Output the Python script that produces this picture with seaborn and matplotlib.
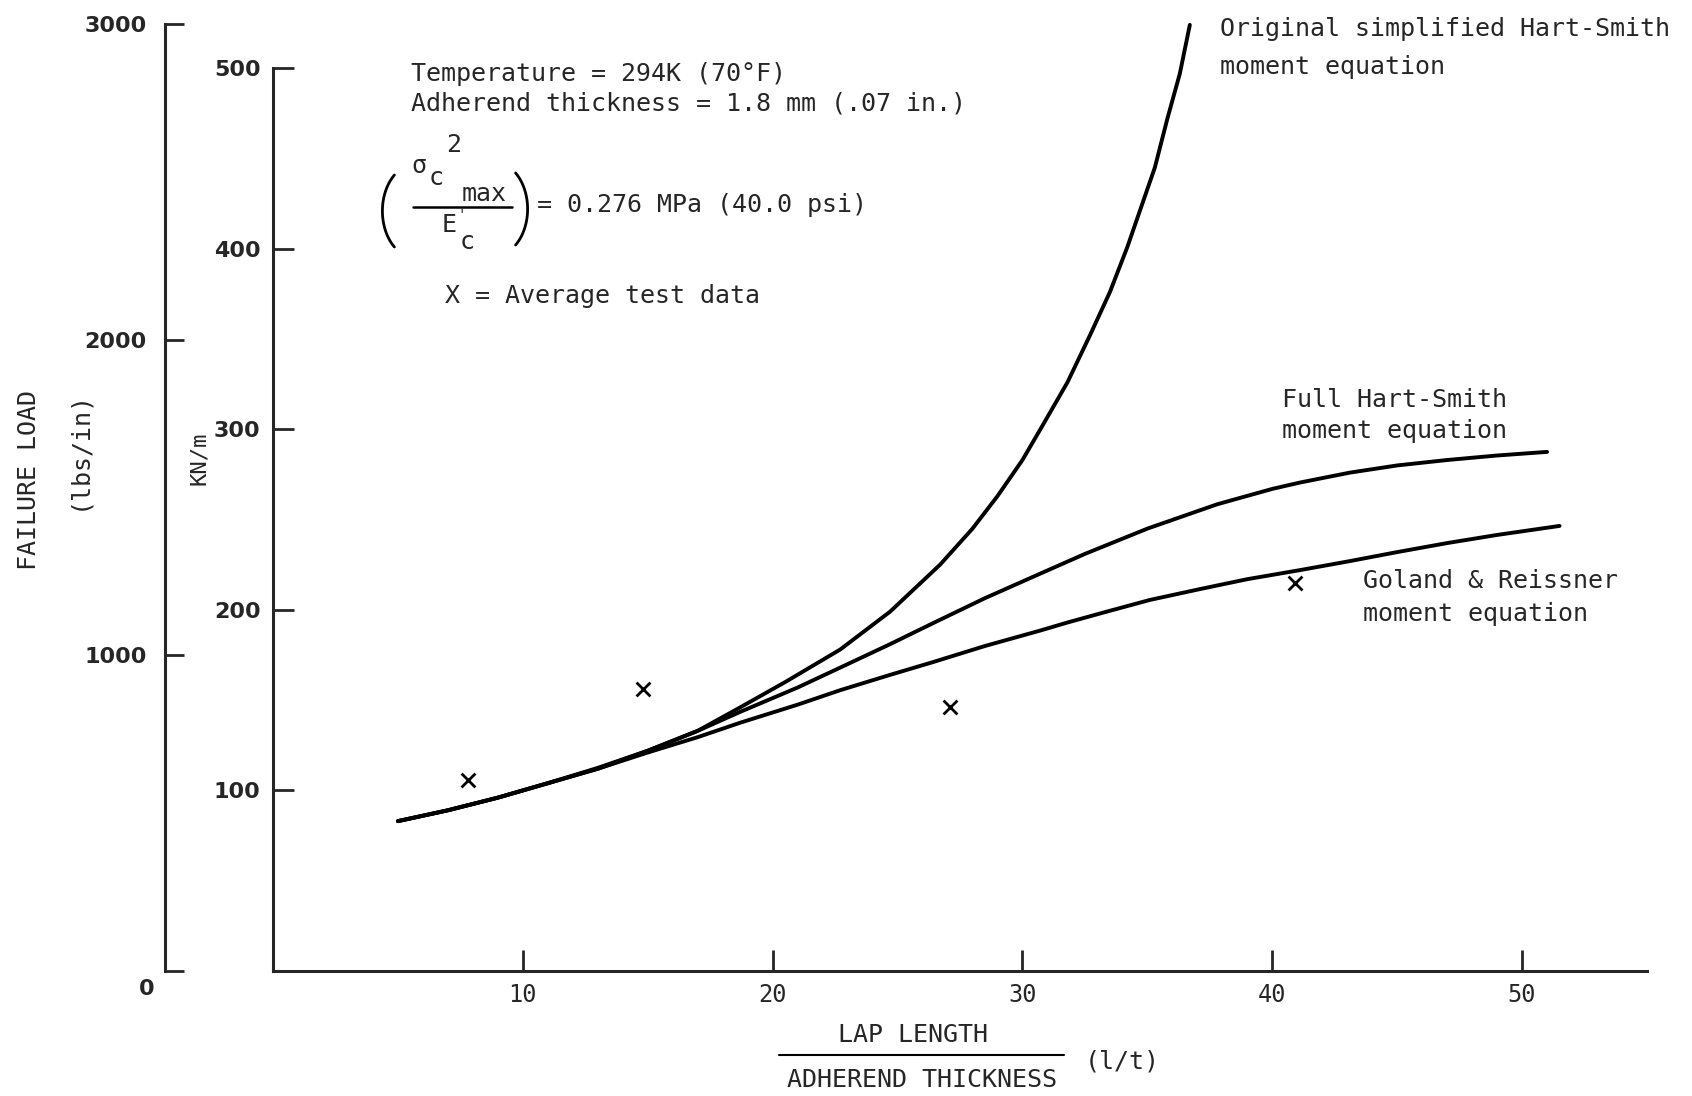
import matplotlib
matplotlib.use('Agg')
import matplotlib.pyplot as plt
from matplotlib.lines import Line2D
from matplotlib.transforms import ScaledTranslation
import numpy as np
import pandas as pd
import seaborn as sns

# values: lap length / adherend thickness vs failure load (kN/m)
orig_x = [5.0, 7, 9, 11, 13, 15, 17, 18.7, 20.5, 22.7, 24.7, 26.7, 28, 29, 30,
          30.8, 31.8, 32.7, 33.5, 34.2, 34.7, 35.3, 35.8, 36.3, 36.7]
orig_y = [83, 89, 96, 104, 112, 122, 133, 146, 160, 178, 199, 225, 245, 263, 283,
          302, 326, 352, 376, 401, 421, 445, 472, 497, 524]

full_x = [5.0, 7, 9, 11, 13, 15, 17, 18.7, 21, 22.7, 24.7, 26.4, 28.5, 30.7, 32.5, 35,
          37.8, 40, 41.1, 43.1, 45, 47, 49, 51]
full_y = [83, 89, 96, 104, 112.5, 122, 133, 143.5, 157, 168, 181, 192.5, 206.5, 220, 231, 245,
          258.5, 267, 270.5, 276, 280, 283, 285.5, 287.5]

gr_x = [5.0, 7, 9, 11, 13, 15, 17, 18.7, 21, 22.7, 24.7, 26.4, 28.5, 30.7, 31.8, 33.5, 35.1,
        37.1, 39, 41.1, 43.1, 45, 47, 49, 51.5]
gr_y = [83, 89, 96, 104, 112, 121, 129.5, 137.5, 147.5, 155.5, 164, 171, 180, 188.5, 193,
        199.5, 205.5, 211.5, 217, 222, 227, 232, 237, 241.5, 246.5]

test_x = [7.8, 14.8, 27.1, 40.9]
test_y = [105.8, 156.1, 146.2, 214.8]

kn_ticks = [100, 200, 300, 400, 500]
lb_ticks = [0, 1000, 2000, 3000]
lt_ticks = [10, 20, 30, 40, 50]

curves = pd.concat([
    pd.DataFrame({'lt': orig_x, 'load': orig_y, 'curve': 'orig'}),
    pd.DataFrame({'lt': full_x, 'load': full_y, 'curve': 'full'}),
    pd.DataFrame({'lt': gr_x, 'load': gr_y, 'curve': 'goland'}),
])
tests = pd.DataFrame({'lt': test_x, 'load': test_y})

sns.set_style('ticks')
plt.rcParams['font.family'] = ['DejaVu Sans Mono', 'DejaVu Sans']

W, H = 1692, 1096
fig = plt.figure(figsize=(W / 100, H / 100), dpi=100)


def fx(px):
    return px / W


def fy(py):
    return 1 - py / H


ax = fig.add_axes([fx(273), fy(971), 1374 / W, 966 / H])
ax2 = fig.add_axes([fx(165), fy(971), 0.01, 947 / H])

for name in ['orig', 'full', 'goland']:
    sns.lineplot(data=curves[curves['curve'] == name], x='lt', y='load', sort=False,
                 estimator=None, color='black', lw=2.8, ax=ax)
sns.scatterplot(data=tests, x='lt', y='load', marker='x', s=100, color='black',
                linewidth=2, ax=ax)

ax.set_xlim(0, 55)
ax.set_ylim(0, 535)
ax.set_xticks(lt_ticks)
ax.set_yticks(kn_ticks)
ax.set_xlabel('')
ax.set_ylabel('')
for s in ['top', 'right']:
    ax.spines[s].set_visible(False)
ax.spines['left'].set_bounds(0, 500)
for s in ['left', 'bottom']:
    ax.spines[s].set_linewidth(2.2)
ax.tick_params(direction='in', length=15, width=2)
ax.tick_params(axis='y', pad=9)
ax.tick_params(axis='x', pad=9)
for lbl in ax.get_yticklabels():
    lbl.set_fontfamily('DejaVu Sans')
    lbl.set_fontweight('bold')
    lbl.set_fontsize(16)
for lbl in ax.get_xticklabels():
    lbl.set_fontsize(17)

# second scale in lbs/in
ax2.set_ylim(0, 3000)
ax2.set_yticks(lb_ticks)
ax2.set_xticks([])
ax2.patch.set_visible(False)
for s in ['top', 'right', 'bottom']:
    ax2.spines[s].set_visible(False)
ax2.spines['left'].set_linewidth(2.2)
ax2.tick_params(direction='in', length=14, width=2, pad=13)
for lbl in ax2.get_yticklabels():
    lbl.set_fontfamily('DejaVu Sans')
    lbl.set_fontweight('bold')
    lbl.set_fontsize(16)
zero_lbl = ax2.get_yticklabels()[0]
zero_lbl.set_transform(zero_lbl.get_transform() + ScaledTranslation(0.08, -0.16, fig.dpi_scale_trans))

# axis titles
fig.text(fx(29), fy(480), 'FAILURE LOAD', rotation=90, ha='center', va='center', fontsize=18)
fig.text(fx(78), fy(450), '(lbs/in)', rotation=90, ha='center', va='center', fontsize=18)
fig.text(fx(199), fy(458), 'KN/m', rotation=90, ha='center', va='center', fontsize=16)

fig.text(fx(913), fy(1035), 'LAP LENGTH', ha='center', va='center', fontsize=18)
fig.add_artist(Line2D([fx(779), fx(1064)], [fy(1055), fy(1055)], color='black', lw=1.5,
                      transform=fig.transFigure))
fig.text(fx(922), fy(1080), 'ADHEREND THICKNESS', ha='center', va='center', fontsize=18)
fig.text(fx(1122), fy(1061), '(l/t)', ha='center', va='center', fontsize=18)

# conditions block
fig.text(fx(411), fy(74), 'Temperature = 294K (70°F)', va='center', fontsize=18)
fig.text(fx(411), fy(104), 'Adherend thickness = 1.8 mm (.07 in.)', va='center', fontsize=18)

# tall thin brackets around the fraction
t = np.deg2rad(np.linspace(-50, 50, 40))
fig.add_artist(Line2D(fx(416 - 33.6 * np.cos(t)), fy(211 + 47 * np.sin(t)), color='black',
                      lw=2, transform=fig.transFigure))
fig.add_artist(Line2D(fx(494 + 33.6 * np.cos(t)), fy(209 + 47 * np.sin(t)), color='black',
                      lw=2, transform=fig.transFigure))

fig.text(fx(419), fy(166), 'σ', ha='center', va='center', fontsize=18)
fig.text(fx(436.5), fy(178), 'c', ha='center', va='center', fontsize=18)
fig.text(fx(454), fy(145), '2', ha='center', va='center', fontsize=18)
fig.text(fx(484), fy(194), 'max', ha='center', va='center', fontsize=18)
fig.add_artist(Line2D([fx(413), fx(512)], [fy(207), fy(207)], color='black', lw=1.8,
                      transform=fig.transFigure))
fig.text(fx(449), fy(225), 'E', ha='center', va='center', fontsize=18)
fig.text(fx(461.5), fy(215), "'", ha='center', va='center', fontsize=10)
fig.text(fx(467), fy(242), 'c', ha='center', va='center', fontsize=18)
fig.text(fx(537), fy(205), '= 0.276 MPa (40.0 psi)', va='center', fontsize=18)
fig.text(fx(445), fy(296), 'X = Average test data', va='center', fontsize=18)

# curve labels
fig.text(fx(1220), fy(29), 'Original simplified Hart-Smith', va='center', fontsize=18)
fig.text(fx(1220), fy(67), 'moment equation', va='center', fontsize=18)
fig.text(fx(1282), fy(400), 'Full Hart-Smith', va='center', fontsize=18)
fig.text(fx(1282), fy(431), 'moment equation', va='center', fontsize=18)
fig.text(fx(1363), fy(581), 'Goland & Reissner', va='center', fontsize=18)
fig.text(fx(1363), fy(614), 'moment equation', va='center', fontsize=18)

plt.savefig('out.png', dpi=100)
